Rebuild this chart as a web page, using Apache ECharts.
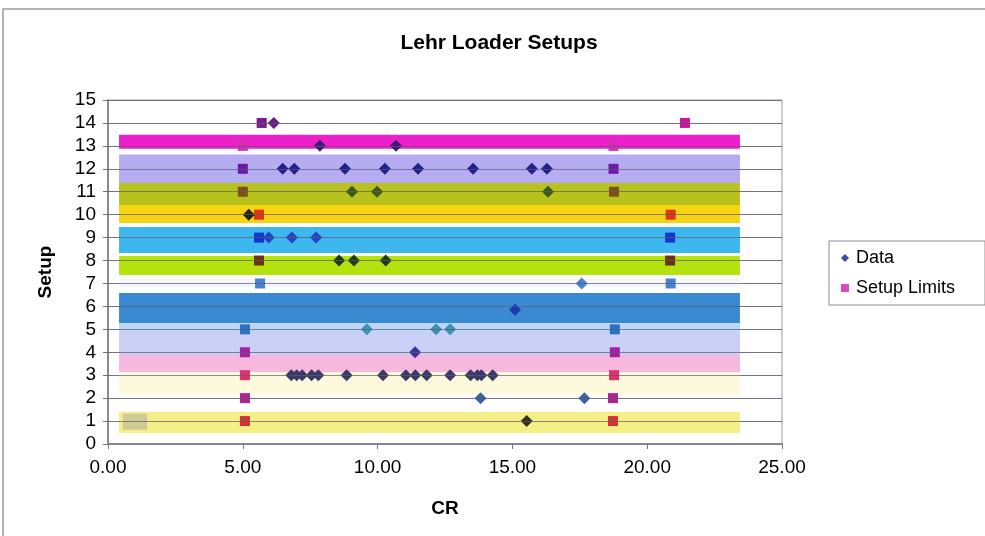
<!DOCTYPE html>
<html>
<head>
<meta charset="utf-8">
<title>Lehr Loader Setups</title>
<script src="https://cdn.jsdelivr.net/npm/echarts@6/dist/echarts.min.js"></script>
<style>
  html, body { margin: 0; padding: 0; background: #ffffff; }
  #chart { width: 985px; height: 536px; }
</style>
</head>
<body>
<div id="chart"></div>
<script>
// Setup numbers shown on the vertical axis
const setupTicks = [0, 1, 2, 3, 4, 5, 6, 7, 8, 9, 10, 11, 12, 13, 14, 15];
const crTicks = [0, 5, 10, 15, 20, 25];

// Measured CR values, as [CR, setup]
const dataPoints = [
  [6.15, 14],
  [7.86, 13], [10.68, 13],
  [6.48, 12], [6.91, 12], [8.79, 12], [10.27, 12], [11.5, 12], [13.54, 12], [15.72, 12], [16.28, 12],
  [9.05, 11], [9.98, 11], [16.32, 11],
  [5.22, 10],
  [5.96, 9], [6.82, 9], [7.72, 9],
  [8.57, 8], [9.12, 8], [10.3, 8],
  [17.57, 7],
  [15.1, 5.85],
  [9.6, 5], [12.17, 5], [12.69, 5],
  [11.39, 4],
  [6.8, 3], [7.0, 3], [7.2, 3], [7.55, 3], [7.8, 3], [8.85, 3], [10.2, 3], [11.05, 3], [11.4, 3],
  [11.82, 3], [12.69, 3], [13.45, 3], [13.7, 3], [13.85, 3], [14.27, 3],
  [13.82, 2], [17.67, 2],
  [15.53, 1]
];

// Lower and upper setup limits, as [CR, setup]
const limitPoints = [
  [5.7, 14], [21.4, 14],
  [5.0, 13], [18.75, 13],
  [5.0, 12], [18.75, 12],
  [5.0, 11], [18.77, 11],
  [5.6, 10], [20.87, 10],
  [5.6, 9], [20.85, 9],
  [5.6, 8], [20.85, 8],
  [5.64, 7], [20.87, 7],
  [5.08, 5], [18.8, 5],
  [5.08, 4], [18.8, 4],
  [5.08, 3], [18.77, 3],
  [5.08, 2], [18.73, 2],
  [5.08, 1], [18.73, 1]
];

// Marker colours per setup row
const dataColour = {
  14: '#6a1a80', 13: '#3c1c74', 12: '#1f228c', 11: '#3c5a12', 10: '#24220e',
  9: '#2244c4', 8: '#1f3a10', 7: '#4a82cc', 5: '#3a94b4', 4: '#4030a4',
  3: '#3a3a66', 2: '#3a62a2', 1: '#34321e'
};
const limitColour = {
  14: '#7a1a8c', 13: '#d22eb4', 12: '#6a1aa4', 11: '#7a5214', 10: '#e03412',
  9: '#1234d4', 8: '#6a3212', 7: '#4a80d0', 5: '#2a72c4', 4: '#a41fa4',
  3: '#e2306c', 2: '#b02292', 1: '#d23232'
};
// upper limit markers that differ from the lower one in the same row
const upperLimitColour = { 14: '#c8189e' };

// Coloured highlight bands behind the rows
const bandLeft = 0.41, bandRight = 23.44;
const bands = [
  { y0: 12.87, y1: 13.48, c: '#ec20ca' },
  { y0: 11.38, y1: 12.62, c: '#b5acf2' },
  { y0: 10.42, y1: 11.38, c: '#b8c21c' },
  { y0: 9.64,  y1: 10.42, c: '#f6d414' },
  { y0: 8.33,  y1: 9.46,  c: '#3eb6ee' },
  { y0: 7.37,  y1: 8.2,   c: '#b4e20c' },
  { y0: 6.82,  y1: 7.2,   c: '#f4f6fb' },
  { y0: 5.28,  y1: 6.58,  c: '#3a8ad2' },
  { y0: 4.88,  y1: 5.28,  c: '#bcd8f6' },
  { y0: 3.88,  y1: 4.88,  c: '#c9cff5' },
  { y0: 3.14,  y1: 3.88,  c: '#f6b8dc' },
  { y0: 2.14,  y1: 3.14,  c: '#fdf9dc' },
  { y0: 0.48,  y1: 1.4,   c: '#f4ef86' }
];

const chart = echarts.init(document.getElementById('chart'), null, { renderer: 'canvas' });
const FONT = 'Liberation Sans, Arial, sans-serif';

const bandAreas = bands.map(b => [
  { xAxis: bandLeft, yAxis: b.y0, itemStyle: { color: b.c, opacity: 1 } },
  { xAxis: bandRight, yAxis: b.y1 }
]);
// small khaki block at the left end of setup 1
bandAreas.push([
  { xAxis: 0.55, yAxis: 0.62, itemStyle: { color: '#cfcb94', opacity: 1 } },
  { xAxis: 1.45, yAxis: 1.32 }
]);

const rowLines = setupTicks.slice(1).map(v => ({ yAxis: v }));

chart.setOption({
  animation: false,
  backgroundColor: '#ffffff',
  title: {
    text: 'Lehr Loader Setups',
    left: 494, top: 28, textAlign: 'center',
    textStyle: { fontFamily: FONT, fontWeight: 'bold', fontSize: 21, color: '#000' }
  },
  graphic: [
    { type: 'rect', shape: { x: 3, y: 9, width: 990, height: 540 },
      style: { fill: null, stroke: '#9a9aa6', lineWidth: 1.5 }, silent: true, z: -1 }
  ],
  legend: {
    data: [
      { name: 'Data', icon: 'diamond', itemStyle: { color: '#10208a' } },
      { name: 'Setup Limits', icon: 'rect', itemStyle: { color: '#d21ab4' } }
    ],
    orient: 'vertical',
    left: 829, top: 241,
    itemWidth: 8, itemHeight: 8, itemGap: 12,
    padding: [8, 30, 8, 12],
    borderColor: '#8c8c8c', borderWidth: 1,
    textStyle: { fontFamily: FONT, fontSize: 18, color: '#000', padding: [0, 0, 0, 2] }
  },
  grid: { left: 108, right: 203, top: 100, bottom: 92, containLabel: false,
          show: true, borderColor: '#9a9aa6', borderWidth: 1, backgroundColor: 'transparent' },
  xAxis: {
    type: 'value', min: 0, max: 25, interval: 5,
    name: 'CR', nameLocation: 'middle', nameGap: 55,
    nameTextStyle: { fontFamily: FONT, fontWeight: 'bold', fontSize: 19, color: '#000' },
    axisLine: { show: true, lineStyle: { color: '#7a7080', width: 1.5 } },
    axisTick: { show: true, length: 5, lineStyle: { color: '#7a7080' } },
    minorTick: { show: false },
    axisLabel: { fontFamily: FONT, fontSize: 19, color: '#000', margin: 14,
                 formatter: v => v.toFixed(2) },
    splitLine: { show: false }
  },
  yAxis: {
    type: 'value', min: 0, max: 15, interval: 1,
    name: 'Setup', nameLocation: 'middle', nameGap: 53, nameRotate: 90,
    nameTextStyle: { fontFamily: FONT, fontWeight: 'bold', fontSize: 19, color: '#000' },
    axisLine: { show: true, lineStyle: { color: '#7a7080', width: 1.5 } },
    axisTick: { show: true, length: 5, lineStyle: { color: '#7a7080' } },
    axisLabel: { fontFamily: FONT, fontSize: 19, color: '#000', margin: 12 },
    splitLine: { show: true, lineStyle: { color: '#a8a8b4', width: 1 } }
  },
  series: [
    {
      name: 'bands', type: 'scatter', data: [], z: 1, silent: true,
      markArea: { silent: true, data: bandAreas }
    },
    {
      name: 'rows', type: 'scatter', data: [], z: 2, silent: true,
      markLine: {
        silent: true, symbol: 'none', label: { show: false },
        lineStyle: { color: '#5e5a6c', width: 1, type: 'solid', opacity: 0.7 },
        data: rowLines
      }
    },
    {
      name: 'Data', type: 'scatter', symbol: 'diamond', symbolSize: 12, z: 4,
      data: dataPoints.map(p => ({
        value: p,
        itemStyle: { color: dataColour[Math.round(p[1])] || '#1a3ab0', opacity: 1 }
      }))
    },
    {
      name: 'Setup Limits', type: 'scatter', symbol: 'rect', symbolSize: 10, z: 3,
      data: limitPoints.map(p => ({
        value: p,
        itemStyle: {
          color: (p[0] > 15 && upperLimitColour[p[1]]) || limitColour[p[1]],
          opacity: 1
        }
      }))
    }
  ]
});
</script>
</body>
</html>
